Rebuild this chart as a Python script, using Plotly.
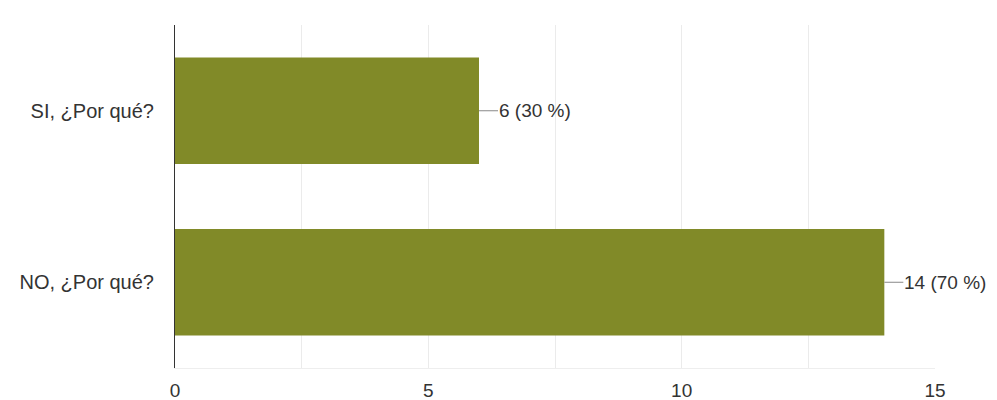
import plotly.graph_objects as go

categories = ["SI, ¿Por qué?", "NO, ¿Por qué?"]
counts = [6, 14]
labels = ["6 (30 %)", "14 (70 %)"]
bar_color = "#818a28"

FONT = "Liberation Sans, Arial, sans-serif"

fig = go.Figure()
fig.add_trace(go.Bar(
    y=categories, x=counts, orientation="h",
    marker=dict(color=bar_color, line=dict(width=0)),
    hoverinfo="skip",
))

for c, v, t in zip(categories, counts, labels):
    fig.add_annotation(
        x=v, y=c, xref="x", yref="y", text=t,
        showarrow=True, arrowhead=0, arrowwidth=1, arrowcolor="#888888",
        ax=19, ay=0, xanchor="left", borderpad=0,
        font=dict(family=FONT, size=19, color="#333333"),
    )

fig.update_layout(
    width=997, height=400,
    margin=dict(l=167, r=70, t=17, b=40),
    plot_bgcolor="white", paper_bgcolor="white",
    showlegend=False, bargap=0.38,
    font=dict(family=FONT, size=19, color="#333333"),
)
fig.update_xaxes(
    range=[0, 15], tickvals=[0, 5, 10, 15], showgrid=True, gridcolor="#ebebeb",
    minor=dict(dtick=2.5, tick0=0, showgrid=True, gridcolor="#ebebeb"),
    zeroline=False, showline=True, linecolor="#eeeeee", ticks="", ticklabelstandoff=5,
    automargin=False,
)
fig.update_yaxes(
    categoryorder="array", categoryarray=categories[::-1],
    showline=True, linecolor="#333333", linewidth=1, ticks="", showgrid=False,
    ticklabelstandoff=16, automargin=False, tickfont=dict(size=20),
)

fig.write_html("out.html")
